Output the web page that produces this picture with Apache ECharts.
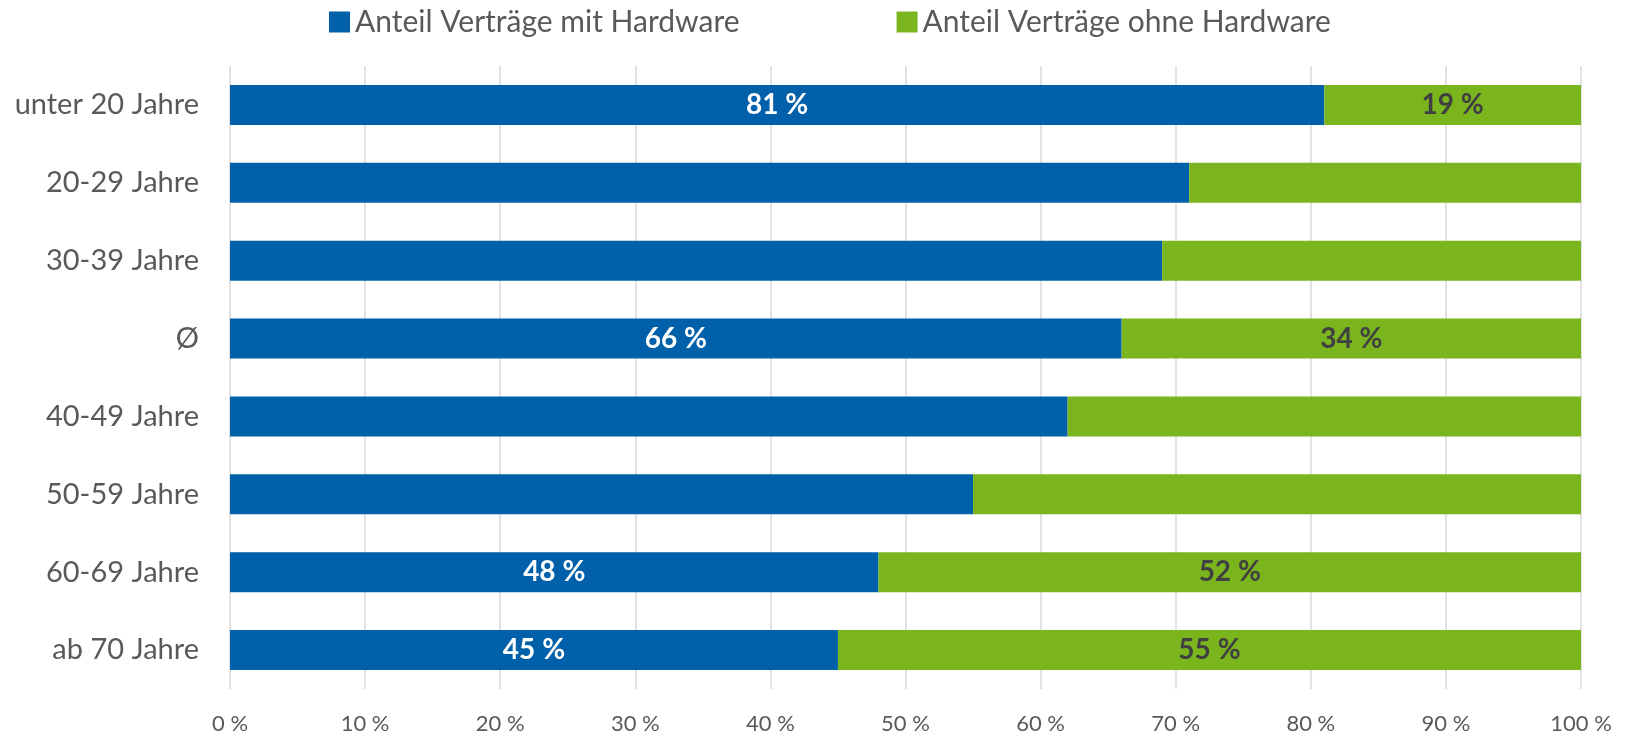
<!DOCTYPE html>
<html>
<head>
<meta charset="utf-8">
<script src="https://cdn.jsdelivr.net/npm/echarts@6/dist/echarts.min.js"></script>
<style>html,body{margin:0;padding:0;background:#fff}#c{width:1629px;height:735px}</style>
</head>
<body>
<div id="c"></div>
<script>
const categories = ['unter 20 Jahre','20-29 Jahre','30-39 Jahre','Ø','40-49 Jahre','50-59 Jahre','60-69 Jahre','ab 70 Jahre'];
const withHardware = [81, 71, 69, 66, 62, 55, 48, 45];
const withoutHardware = [19, 29, 31, 34, 38, 45, 52, 55];
const showLabel = [true, false, false, true, false, false, true, true];
const seriesNames = ['Anteil Verträge mit Hardware','Anteil Verträge ohne Hardware'];

const FONT = 'Lato';
const chart = echarts.init(document.getElementById('c'));
function mk(vals){ return vals.map((v,i)=>({value:v,label:{show:showLabel[i]}})); }
chart.setOption({
  animation:false,
  textStyle:{fontFamily:FONT},
  legend:{
    top:2, left:324, itemGap:157, itemWidth:21, itemHeight:21, icon:'rect',
    textStyle:{fontSize:30,color:'#595959',fontFamily:FONT},
    data:seriesNames
  },
  grid:{left:230,right:48,top:66,bottom:45,containLabel:false},
  xAxis:{
    type:'value',min:0,max:100,interval:10,
    axisLabel:{formatter:v=>v+' %',fontSize:22,color:'#595959',margin:24,fontFamily:FONT},
    axisLine:{show:false},axisTick:{show:false},
    splitLine:{show:true,lineStyle:{color:'#D9D9D9',width:1.5}}
  },
  yAxis:{
    type:'category',inverse:true,data:categories,
    axisLabel:{fontSize:29,color:'#595959',margin:31,fontFamily:FONT},
    axisLine:{show:false},axisTick:{show:false}
  },
  series:[
    {name:seriesNames[0],type:'bar',stack:'a',barWidth:40,data:mk(withHardware),
     itemStyle:{color:'#0060A9'},
     label:{position:'inside',formatter:'{c} %',color:'#ffffff',fontSize:28,fontWeight:'bold',fontFamily:FONT}},
    {name:seriesNames[1],type:'bar',stack:'a',barWidth:40,data:mk(withoutHardware),
     itemStyle:{color:'#7AB51E'},
     label:{position:'inside',formatter:'{c} %',color:'#404040',fontSize:28,fontWeight:'bold',fontFamily:FONT}}
  ]
});
</script>
</body>
</html>
